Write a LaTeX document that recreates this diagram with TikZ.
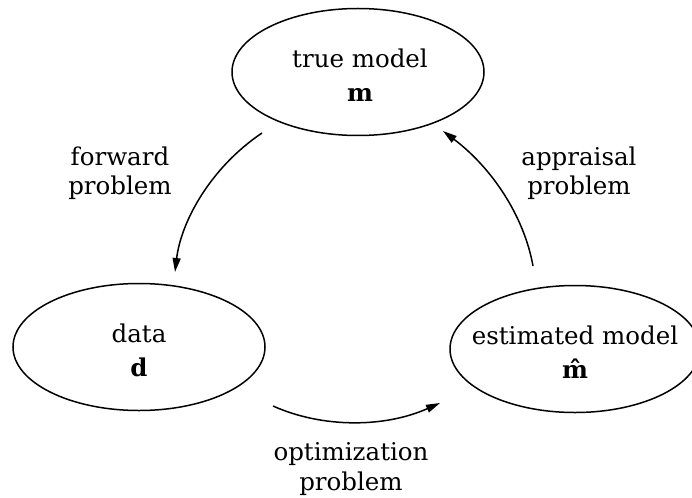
\documentclass[tikz,border=0pt]{standalone}
\usepackage{fontspec}
\setmainfont{DejaVu Serif}
\usetikzlibrary{arrows.meta,shapes.geometric}
\begin{document}
\begin{tikzpicture}[x=1pt,y=-1pt,
  every node/.style={font=\fontsize{24.5}{30}\selectfont},
  ell/.style={draw,line width=1.5pt,ellipse,minimum width=252pt,minimum height=127pt,inner sep=0pt},
  etext/.style={align=center,font=\fontsize{24.5}{34}\selectfont},
  lbl/.style={align=center,font=\fontsize{24.5}{29.5}\selectfont},
  edge/.style={line width=1.5pt,-{Triangle[length=14pt,width=8pt]}}]
\useasboundingbox (0,0) rectangle (692,497);
\node[ell] (m) at (358,72) {};
\node[ell] (d) at (139,347) {};
\node[ell,minimum width=250pt] (e) at (575,349) {};
\node[etext] (mt) at ([xshift=2pt,yshift=-3.5pt]m.center) {true model\\\textbf{m}};
\node[etext] (dt) at ([yshift=-3.5pt]d.center) {data\\\textbf{d}};
\node[etext] (et) at ([yshift=-3.5pt]e.center) {estimated model\\\textbf{\^{m}}};
\coordinate (f1) at (262,133);
\coordinate (f2) at (175,272);
\coordinate (a1) at (533,266);
\coordinate (a2) at (443,131);
\coordinate (o1) at (273,406);
\coordinate (o2) at (440,403);
\draw[edge] (f1) .. controls (210,168) and (181,222) .. (f2);
\draw[edge] (a1) .. controls (524,216) and (492,168) .. (a2);
\draw[edge] (o1) .. controls (322,428) and (384,428) .. (o2);
\node[lbl] (fl) at (120,173) {forward\\problem};
\node[lbl] (al) at (579,173) {appraisal\\problem};
\node[lbl] (ol) at (351,469) {optimization\\problem};
\end{tikzpicture}
\end{document}
